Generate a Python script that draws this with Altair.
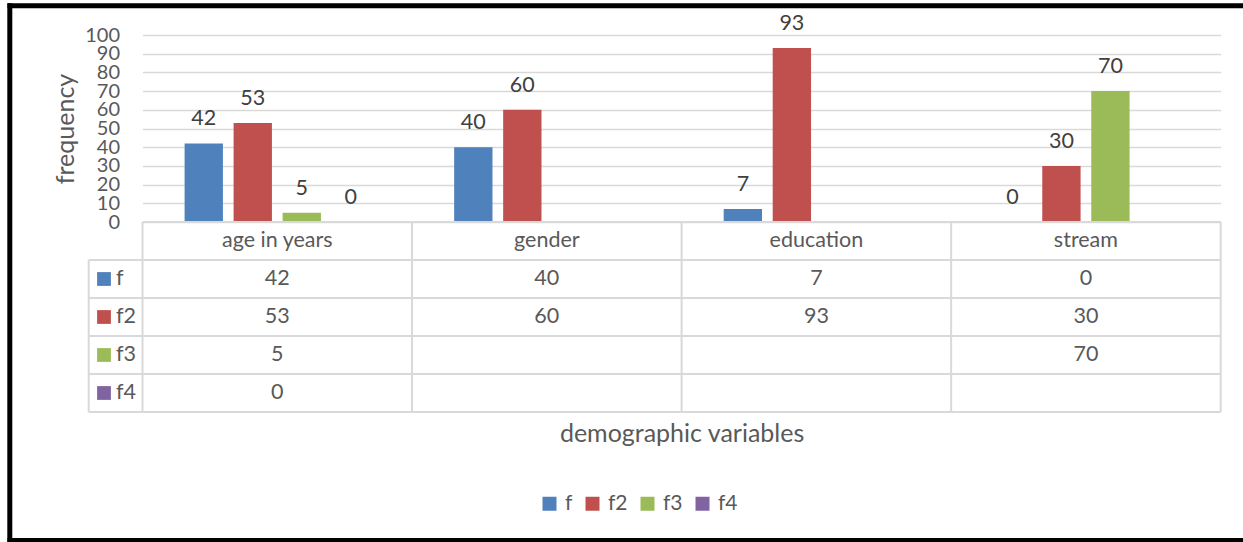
import altair as alt
import pandas as pd

# ---- data ----
categories = ["age in years", "gender", "education", "stream"]
series = ["f", "f2", "f3", "f4"]
f_vals = [42, 40, 7, 0]
f2_vals = [53, 60, 93, 30]
f3_vals = [5, None, None, 70]
f4_vals = [0, None, None, None]
colors = ["#4f81bd", "#c0504d", "#9bbb59", "#8064a2"]
y_ticks = [0, 10, 20, 30, 40, 50, 60, 70, 80, 90, 100]

FONT = "Lato"
FS = 21.5      # labels
FS_T = 25      # axis titles
TXT = "#595959"
LBL = "#404040"
GRID = "#d9d9d9"

W = 1078.2   # plot width
H = 377      # plot + table height
BAR_H = 187  # bar area height

rows = []
for s, vals in zip(series, [f_vals, f2_vals, f3_vals, f4_vals]):
    for c, v in zip(categories, vals):
        if v is not None:
            rows.append({"category": c, "series": s, "value": v, "row": s, "text": str(v)})
df = pd.DataFrame(rows)

table_rows = ["header"] + series
hdr = pd.DataFrame({"category": categories, "row": ["header"] * 4, "text": categories})
cells = pd.concat([hdr, df[["category", "row", "text"]]], ignore_index=True)
row_keys = pd.DataFrame({"row": series, "series": series})
cat_df = pd.DataFrame({"category": categories})
last_cat = pd.DataFrame({"category": [categories[-1]]})
hline_rows = pd.DataFrame({"row": series})
last_row = pd.DataFrame({"row": [series[-1]]})

x_scale = alt.Scale(domain=categories, paddingInner=0, paddingOuter=0)
x_axis = alt.Axis(labels=False, ticks=False, domain=False, grid=False,
                  title="demographic variables", titleFont=FONT, titleFontSize=FS_T,
                  titleFontWeight="normal", titleColor=TXT, titlePadding=9)
row_scale = alt.Scale(domain=table_rows, range=[BAR_H, H], paddingInner=0, paddingOuter=0)
y_val_scale = alt.Scale(domain=[0, 100], range=[BAR_H, 0])
xoff = alt.XOffset("series:N", scale=alt.Scale(domain=series, paddingInner=0.218, paddingOuter=0.859))

def X(bp=None):
    if bp is None:
        return alt.X("category:N", scale=x_scale, axis=x_axis)
    return alt.X("category:N", scale=x_scale, axis=x_axis, bandPosition=bp)

def YR(bp=None):
    if bp is None:
        return alt.Y("row:N", scale=row_scale, axis=None)
    return alt.Y("row:N", scale=row_scale, axis=None, bandPosition=bp)

bars = alt.Chart(df).mark_bar().encode(
    x=X(),
    xOffset=xoff,
    y=alt.Y("value:Q", scale=y_val_scale,
            axis=alt.Axis(values=y_ticks, grid=True, gridColor=GRID, gridWidth=1.3,
                          domain=False, ticks=False, labelFont=FONT, labelFontSize=20,
                          labelColor=TXT, labelPadding=23, labelOverlap=False, labelFlush=False,
                          title="frequency", titleFont=FONT, titleFontSize=FS_T,
                          titleFontWeight="normal", titleColor=TXT, titleX=-77.5, titleY=93.5,
                          titleAngle=270, titleAlign="center", titleBaseline="middle")),
    color=alt.Color("series:N", scale=alt.Scale(domain=series, range=colors),
                    legend=alt.Legend(orient="none", legendX=396.5, legendY=458,
                                      direction="horizontal", title=None, symbolType="square",
                                      symbolSize=196, symbolStrokeWidth=0, labelFont=FONT,
                                      labelFontSize=21, labelColor=TXT, labelOffset=5,
                                      columnPadding=9, padding=0)),
)

bar_labels = alt.Chart(df).mark_text(font=FONT, fontSize=FS, color=LBL, dy=-18,
                                     baseline="alphabetic").encode(
    x=X(), xOffset=xoff,
    y=alt.Y("value:Q", scale=y_val_scale, axis=None),
    text="text:N",
)

cell_text = alt.Chart(cells).mark_text(font=FONT, fontSize=FS, color=TXT, baseline="middle").encode(
    x=X(), y=YR(), text="text:N",
)

key_squares = alt.Chart(row_keys).mark_square(size=190, opacity=1, strokeWidth=0).encode(
    x=alt.value(-38.5), y=YR(),
    color=alt.Color("series:N", scale=alt.Scale(domain=series, range=colors), legend=None),
)
key_labels = alt.Chart(row_keys).mark_text(font=FONT, fontSize=FS, color=TXT, align="left",
                                           baseline="middle").encode(
    x=alt.value(-26.5), y=YR(), text="series:N",
)

# table grid lines
vlines = alt.Chart(cat_df).mark_rule(color=GRID, strokeWidth=2).encode(
    x=X(0), y=alt.value(BAR_H), y2=alt.value(H))
vline_end = alt.Chart(last_cat).mark_rule(color=GRID, strokeWidth=2).encode(
    x=X(1), y=alt.value(BAR_H), y2=alt.value(H))
hlines = alt.Chart(hline_rows).mark_rule(color=GRID, strokeWidth=2).encode(
    y=YR(0), x=alt.value(-53.8), x2=alt.value(W))
hline_end = alt.Chart(last_row).mark_rule(color=GRID, strokeWidth=2).encode(
    y=YR(1), x=alt.value(-53.8), x2=alt.value(W))
hdr_top = alt.Chart(last_cat).mark_rule(color=GRID, strokeWidth=2).encode(
    y=alt.value(BAR_H), x=alt.value(0), x2=alt.value(W))
left_col = alt.Chart(last_row).mark_rule(color=GRID, strokeWidth=2).encode(
    x=alt.value(-53.8), y=alt.value(BAR_H + (H - BAR_H) / 5), y2=alt.value(H))

# outer frame (black)
frame_top = alt.Chart(last_row).mark_rule(color="black", strokeWidth=5).encode(
    x=alt.value(-135), x2=alt.value(1100.5), y=alt.value(-29.3))
frame_left = alt.Chart(last_row).mark_rule(color="black", strokeWidth=5).encode(
    x=alt.value(-132.7), y=alt.value(-31.8), y2=alt.value(507))
frame_bottom = alt.Chart(last_row).mark_rule(color="black", strokeWidth=4).encode(
    x=alt.value(-135), x2=alt.value(1100.5), y=alt.value(505))

chart = alt.layer(
    bars, bar_labels, hdr_top, vlines, vline_end, hlines, hline_end, left_col,
    cell_text, key_squares, key_labels, frame_top, frame_left, frame_bottom,
).resolve_scale(y="independent", color="shared").properties(
    width=W, height=H,
    autosize=alt.AutoSizeParams(type="none"),
    padding={"left": 142.5, "top": 35, "right": 22.3, "bottom": 130},
    background="white",
).configure_view(stroke=None)

chart.save("out.html", embed_options={"renderer": "svg", "actions": False})
